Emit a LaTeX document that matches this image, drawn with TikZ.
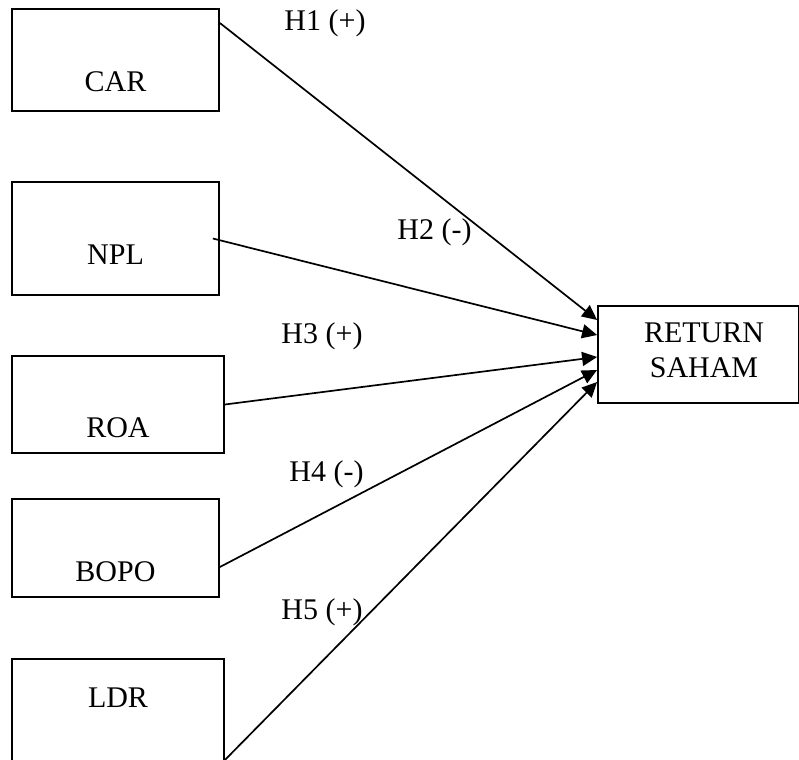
\documentclass[tikz,border=0pt]{standalone}
\usepackage{fontspec}
\setmainfont{Liberation Serif}
\usetikzlibrary{positioning,arrows.meta}

\begin{document}
\begin{tikzpicture}[x=0.5pt,y=-0.5pt]

\tikzstyle{every node}=[font=\fontsize{15}{17.5}\selectfont]
\tikzstyle{var}=[draw, line width=0.9pt, inner sep=0pt]
\tikzstyle{hyp}=[anchor=base]

\useasboundingbox (0,0) rectangle (799,760);

% nodes %
\node[var, minimum width=103.5pt, minimum height=51pt, label={[anchor=base, yshift=-11pt]center:CAR}] (car) at (115.5,60) {};
\node[var, minimum width=103.5pt, minimum height=56.5pt, label={[anchor=base, yshift=-8.25pt]center:NPL}] (npl) at (115.5,238.5) {};
\node[var, minimum width=106pt, minimum height=48.5pt, label={[anchor=base, yshift=-11.75pt]center:ROA}] (roa) at (118,404.5) {};
\node[var, minimum width=103.5pt, minimum height=49pt, label={[anchor=base, yshift=-12pt]center:BOPO}] (bopo) at (115.5,548) {};
\node[var, minimum width=106pt, minimum height=61pt, label={[anchor=base, yshift=11pt]center:LDR}] (ldr) at (118,720) {};
\node[var, minimum width=100.5pt, minimum height=48.5pt, label={[align=center, xshift=2.75pt, yshift=2pt]center:RETURN\\SAHAM}] (ret) at (698.5,354.5) {};

% labels %
\node[hyp] (h1) at (325,31) {H1 (+)};
\node[hyp] (h2) at (434.5,239) {H2 (-)};
\node[hyp] (h3) at (322,343) {H3 (+)};
\node[hyp] (h4) at (326.5,481) {H4 (-)};
\node[hyp] (h5) at (322,619) {H5 (+)};

% edges %
\tikzstyle{edge}=[-{Triangle[length=7.5pt,width=7pt]}, line width=0.85pt]
\draw[edge] ([yshift=18.5pt]car.east) -- ([yshift=17.25pt]ret.west);
\draw[edge] ([xshift=-3.5pt]npl.east) -- ([yshift=9.75pt]ret.west);
\draw[edge] (roa.east) -- ([yshift=-1.25pt]ret.west);
\draw[edge] ([yshift=-9.5pt]bopo.east) -- ([yshift=-7.75pt]ret.west);
\draw[edge] ([yshift=-20pt]ldr.east) -- ([yshift=-13.75pt]ret.west);

\end{tikzpicture}
\end{document}
